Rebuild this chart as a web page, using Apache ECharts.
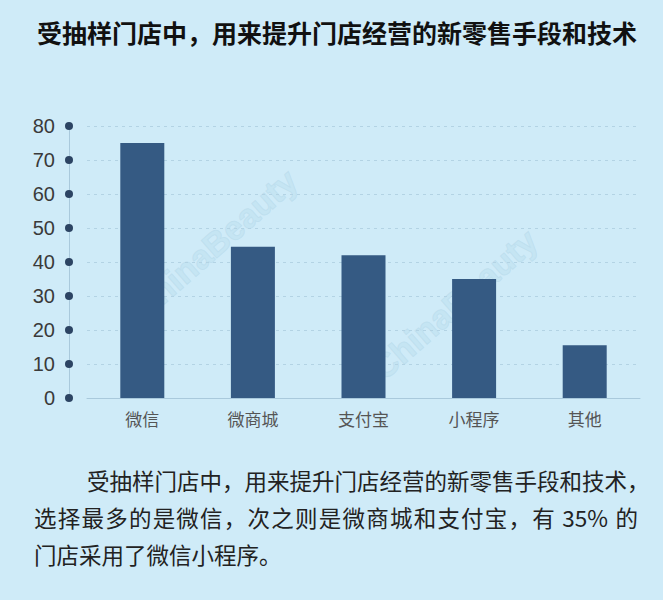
<!DOCTYPE html>
<html><head><meta charset="utf-8">
<script src="https://cdn.jsdelivr.net/npm/echarts@6/dist/echarts.min.js"></script>
<style>html,body{margin:0;padding:0;background:#cfebf8;}#c{width:663px;height:600px;}</style>
</head><body><div id="c"></div>
<script>
var titleText = '受抽样门店中，用来提升门店经营的新零售手段和技术';
var categories = ['微信', '微商城', '支付宝', '小程序', '其他'];
var values = [75, 44.5, 42, 35, 15.5];
var yTicks = [0, 10, 20, 30, 40, 50, 60, 70, 80];
var paragraph1 = '受抽样门店中，用来提升门店经营的新零售手段和技术，';
var paragraph2 = '选择最多的是微信，次之则是微商城和支付宝，有 35% 的';
var paragraph3 = '门店采用了微信小程序。';
var watermarkText = 'ChinaBeauty';

var chart = echarts.init(document.getElementById('c'), null, {renderer: 'svg'});
var cjk = '"Noto Sans CJK SC", sans-serif';
var paraFont = '22.5px "Noto Sans CJK SC", sans-serif';
var marks = [[125, 300], [365, 360]].map(function (p) {
  return {
    type: 'text', x: p[0], y: p[1], rotation: 0.72, silent: true, z: -1,
    style: {text: watermarkText, fontFamily: '"Liberation Sans", Arial, sans-serif', fontSize: 34,
      fontWeight: 'bold', fill: 'rgba(190,225,240,0.55)', stroke: 'rgba(160,200,220,0.35)', lineWidth: 1}
  };
});
function para(text, x, y) {
  return {type: 'text', x: x, y: y,
    style: {text: text, x: 0, y: 0, align: 'left', verticalAlign: 'top',
      fontFamily: cjk, fontSize: 22.5, fill: '#222'}};
}
// justified line: spread tokens evenly between x0 and x1
function justified(text, x0, x1, y) {
  var ctx = document.createElement('canvas').getContext('2d');
  ctx.font = paraFont;
  var tokens = text.match(/[A-Za-z0-9%]+|\s|./g);
  var widths = tokens.map(function (t) { return ctx.measureText(t).width; });
  var total = widths.reduce(function (a, b) { return a + b; }, 0);
  var gap = (x1 - x0 - total) / (tokens.length - 1);
  var out = [], x = x0;
  tokens.forEach(function (t, i) {
    if (t.trim()) out.push(para(t, x, y));
    x += widths[i] + gap;
  });
  return out;
}
var texts = [para(paragraph1, 87, 469)]
  .concat(justified(paragraph2, 34, 638, 506))
  .concat([para(paragraph3, 34, 543)]);
chart.setOption({
  backgroundColor: '#cfebf8',
  animation: false,
  title: {
    text: titleText, left: 32, top: 14,
    textStyle: {fontFamily: cjk, fontSize: 25, fontWeight: 'bold', color: '#111'}
  },
  grid: {left: 87, right: 23, top: 126, bottom: 202},
  xAxis: {
    type: 'category', data: categories,
    axisLine: {show: true, lineStyle: {color: '#a9c9dc', width: 1}},
    axisTick: {show: false},
    axisLabel: {margin: 12, fontFamily: cjk, fontSize: 17, color: '#555'}
  },
  yAxis: {
    type: 'value', min: yTicks[0], max: yTicks[yTicks.length - 1], interval: 10,
    offset: 18,
    axisLine: {show: true, lineStyle: {color: '#a9c9dc', width: 1}},
    axisTick: {show: false},
    splitLine: {show: true, lineStyle: {color: '#b3d3e4', type: [3, 4], width: 1}},
    axisLabel: {
      margin: -4,
      formatter: function (v) { return '{t|' + v + '}{d|}'; },
      rich: {
        t: {fontFamily: '"Liberation Sans", Arial, sans-serif', fontSize: 20, color: '#3a3a3a', padding: [0, 10, 0, 0]},
        d: {width: 8, height: 8, borderRadius: 4, backgroundColor: '#2c4463'}
      }
    }
  },
  series: [{
    type: 'bar', data: values, barWidth: 44,
    itemStyle: {color: '#355a83'}
  }],
  graphic: marks.concat(texts)
});
</script></body></html>
